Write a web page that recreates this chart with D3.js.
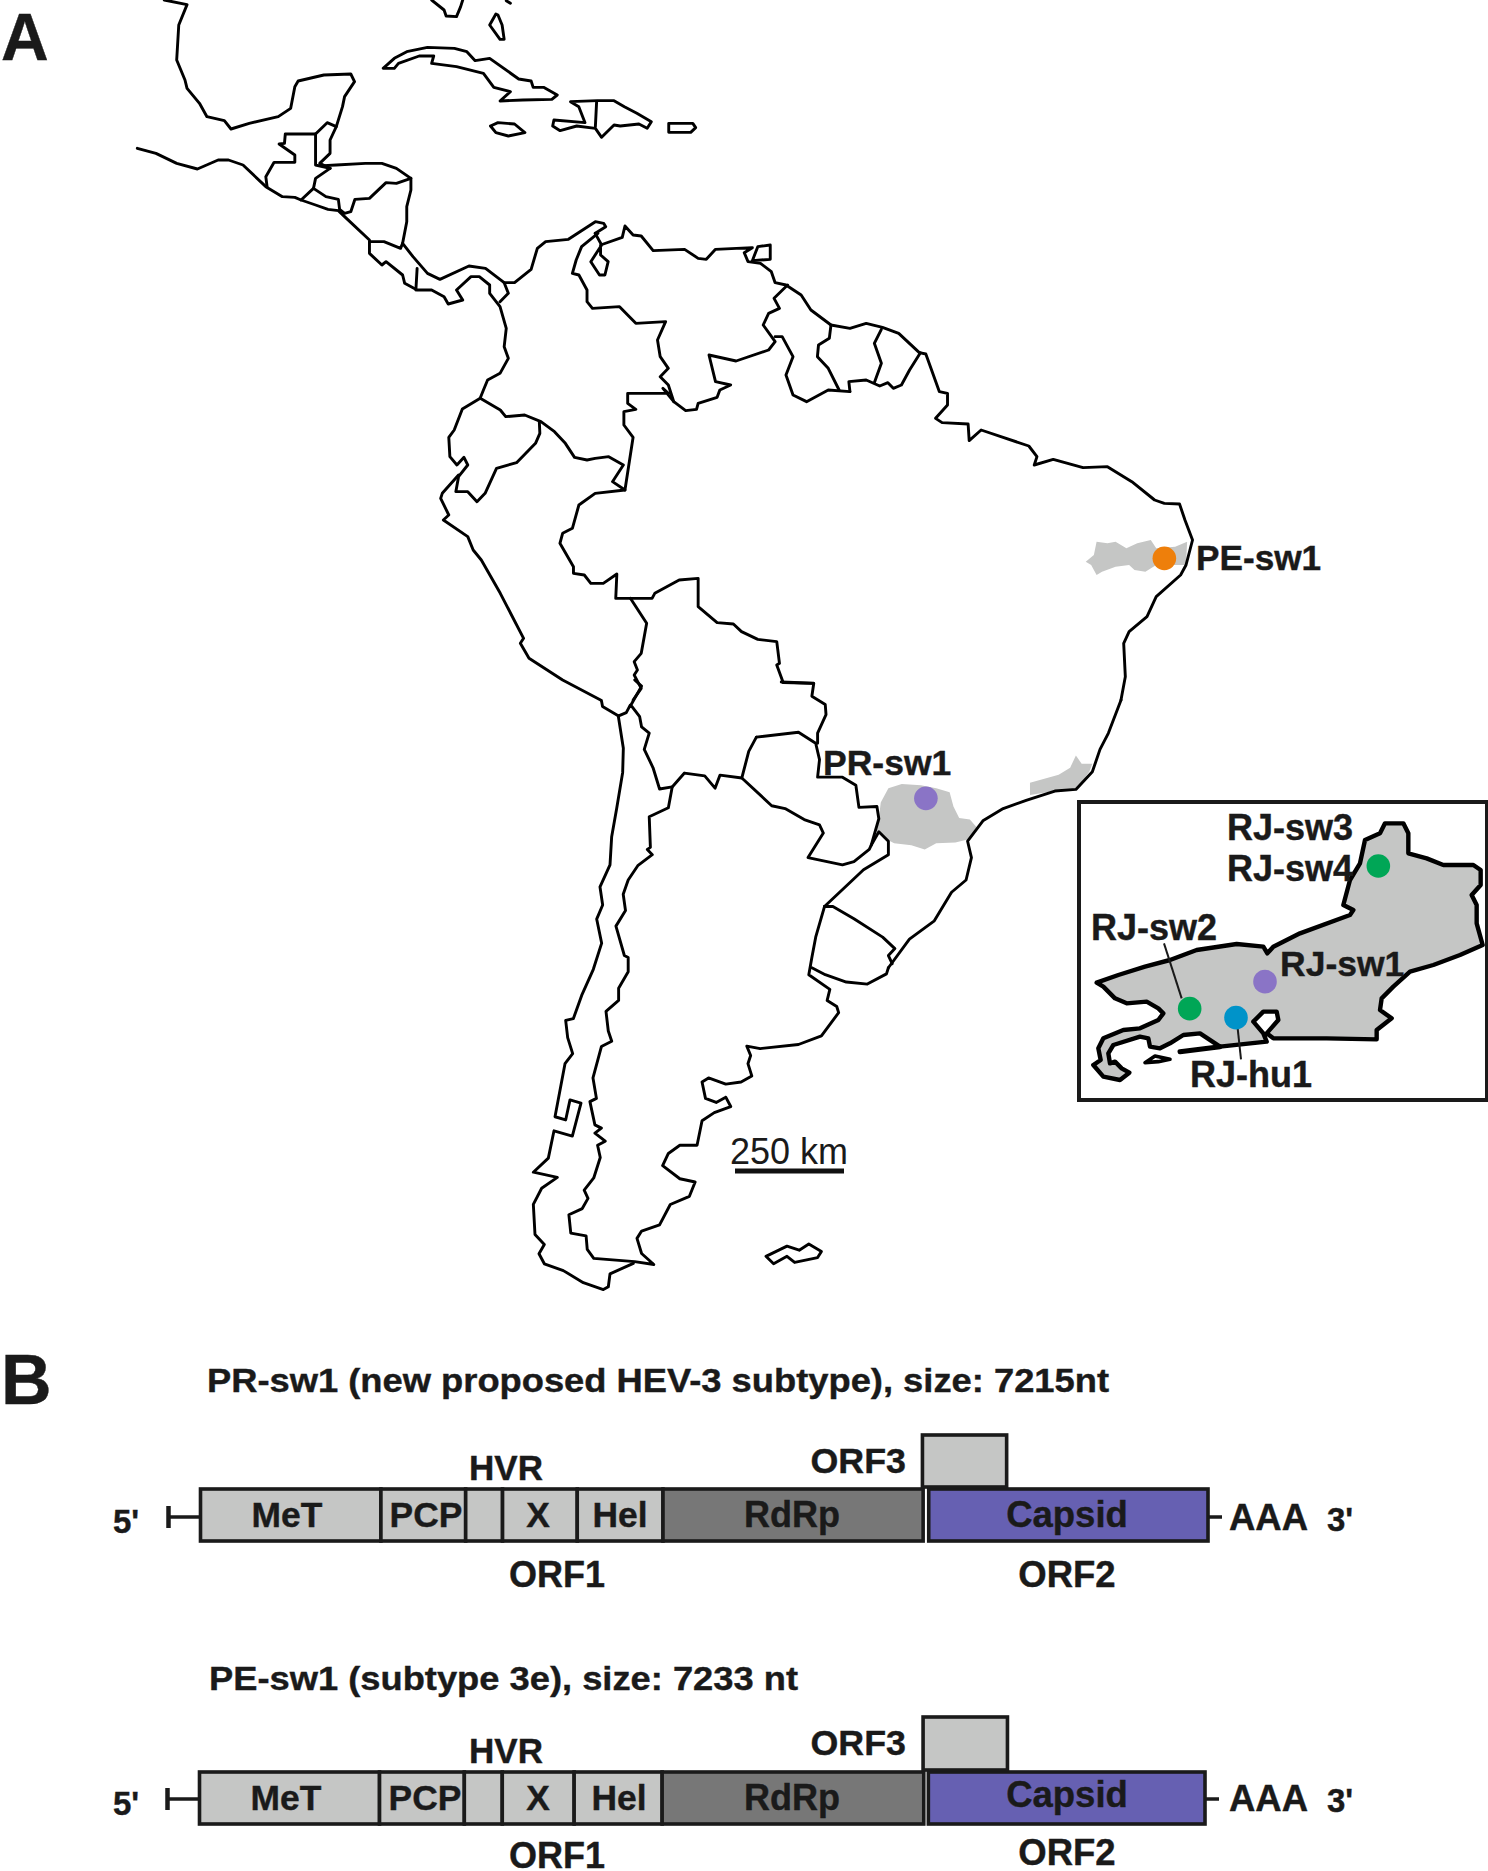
<!DOCTYPE html>
<html>
<head>
<meta charset="utf-8">
<script src="https://d3js.org/d3.v7.min.js"></script>
<style>
    body { margin: 0; background: #fff; }
    svg { display: block; }
    text { font-family: "Liberation Sans", Arial, sans-serif; fill: #1a1a1a; }
    .outline { fill: none; stroke: #000; stroke-width: 2.9; stroke-linejoin: round; stroke-linecap: round; }
</style>
</head>
<body>
<script>
//self-executing anonymous function to move to local scope
(function(){

//map outlines, each in the units of the sheet it was traced on
var mexicoGulf = [[155,0],[210,14],[190,75],[185,180],[205,240],[210,265],[240,310],[258,350],[300,362],[316,387],[360,370],[430,350],[460,325],[470,260],[478,243],[540,225],[605,222],[614,245],[590,290],[585,320],[570,380],[548,368],[520,402],[447,402],[445,430],[432,432],[470,465],[470,487],[420,487],[400,530],[403,560]];
var belizeCoast = [[570,380],[555,420],[555,460],[530,490],[555,505]];
var belizeWest = [[520,402],[520,495],[555,505]];
var pacificNorth = [[90,445],[135,460],[185,490],[235,507],[285,480],[310,480],[345,495],[400,560],[440,590],[470,592],[485,600],[520,615],[550,628],[575,632],[590,650],[650,720],[650,760],[680,795],[690,785],[730,825],[735,850],[765,870],[800,870],[830,890],[840,912],[875,900],[860,870],[895,830],[915,830],[940,855],[940,880],[965,920],[980,985],[975,1040],[985,1075],[965,1120],[935,1140],[925,1170],[918,1192]];
var caribbeanWest = [[540,497],[570,495],[640,490],[680,490],[715,505],[750,535],[750,570],[740,620],[740,665],[730,730],[755,770],[790,820],[820,838],[890,798],[930,805],[975,848],[1000,848],[1040,808],[1055,745],[1075,725],[1130,718],[1195,665],[1215,670],[1220,680],[1195,700]];
var hondurasSouth = [[750,535],[715,550],[690,548],[650,595],[615,598],[605,635],[590,640],[578,628],[575,598],[545,590],[515,565],[520,535],[555,505]];
var salvadorWest = [[515,565],[485,600]];
var costaRicaNorth = [[650,725],[685,725],[725,745],[730,730]];
var costaRicaEast = [[765,805],[762,870]];
var panamaEast = [[975,848],[985,880],[965,905]];
var florida = [[800,0],[830,30],[835,48],[860,50],[870,20],[875,0]];
var keyIsland = [[980,2],[990,10]];
var bahamas = [[955,42],[940,75],[965,118],[975,118],[970,75],[960,45]];
var cuba = [[683,205],[710,175],[740,155],[790,142],[855,145],[885,155],[905,182],[940,175],[1010,237],[1040,243],[1045,262],[1070,262],[1103,285],[1090,298],[1020,300],[965,303],[990,275],[950,262],[925,220],[860,200],[800,190],[805,168],[770,168],[720,190],[710,205]];
var jamaica = [[942,378],[960,368],[1000,372],[1025,398],[985,408],[955,398]];
var hispaniola = [[1135,305],[1200,302],[1240,302],[1265,320],[1295,340],[1330,365],[1320,385],[1300,372],[1255,378],[1240,375],[1210,412],[1195,385],[1150,378],[1110,392],[1092,378],[1095,360],[1170,368],[1155,320]];
var haitiBorder = [[1198,305],[1195,380]];
var puertoRico = [[1372,370],[1430,370],[1437,383],[1425,397],[1372,397]];

var colombiaCoast = [[365,100],[335,140],[325,180],[318,220],[330,225],[345,270],[345,305],[355,325],[405,320],[435,370],[490,365],[475,420],[480,470],[495,505],[480,530],[495,555],[505,605],[485,565],[495,580],[420,580],[420,610],[435,628],[413,635],[413,675],[430,712],[415,870],[392,845],[412,795],[385,770],[360,775],[345,780],[322,772],[305,730],[285,695],[260,665],[230,645],[195,650],[185,630],[148,595]];
var atlanticCoast = [[360,100],[372,135],[352,185],[368,225],[378,225],[384,185],[370,165],[370,135],[410,112],[415,78],[430,105],[445,108],[467,152],[525,148],[550,175],[565,178],[582,148],[650,143],[635,158],[642,185],[665,190],[685,215],[692,248],[712,255],[740,285],[758,330],[795,375],[830,385],[860,370],[890,382],[920,400],[958,458],[970,462],[995,575],[1010,580],[1010,615],[988,655],[1000,668],[1048,672],[1050,722],[1072,690],[1160,738],[1175,770],[1170,795],[1205,778],[1260,803],[1305,800],[1350,845],[1392,900],[1410,910],[1438,912],[1448,960],[1462,1020],[1450,1095],[1440,1125],[1395,1190],[1378,1250],[1345,1295],[1335,1330],[1338,1430],[1330,1500]];
var trinidad = [[660,140],[683,135],[683,178],[650,182]];
var venezuelaSouth = [[715,255],[690,295],[700,325],[680,340],[670,375],[692,425],[680,450],[620,483],[570,465],[582,545],[610,555],[590,570],[585,592],[550,610],[547,628],[527,632],[505,605]];
var guyanaSouth = [[692,410],[705,410],[715,440],[725,470],[712,525],[725,585],[750,605],[790,570],[830,575]];
var guyanaEast = [[795,375],[792,415],[772,435],[770,470],[790,505],[810,570]];
var surinameEast = [[888,388],[875,430],[888,490],[875,548]];
var guianaSouth = [[830,575],[828,545],[860,540],[885,558],[900,548],[910,565],[925,555],[940,510],[960,458]];
var ecuador = [[148,595],[115,627],[100,690],[90,712],[92,770],[105,795],[118,772],[125,795],[108,830],[103,875],[125,875],[142,905],[157,880],[178,805],[215,788],[250,730],[258,700],[257,665]];
var peruCoast = [[108,825],[78,880],[75,895],[90,945],[80,960],[125,1010],[135,1050],[150,1080],[185,1180],[228,1315],[222,1330],[238,1375],[300,1440],[370,1500]];
var brazilWest = [[415,870],[360,880],[330,915],[318,985],[300,1000],[295,1030],[320,1100],[320,1120],[340,1125],[352,1150],[375,1150],[400,1122],[398,1195],[425,1195],[465,1195],[470,1180],[515,1140],[550,1135],[550,1220],[585,1268],[615,1272],[630,1295],[660,1318],[695,1325],[700,1390],[695,1395],[707,1448],[762,1450]];
var peruBolivia = [[425,1195],[455,1270],[445,1360],[432,1385],[438,1410],[432,1425],[445,1465],[430,1500]];

var peruBoliviaEnd = [[352,0],[370,15],[340,65]];
var chilePeru = [[265,50],[268,65],[310,88],[330,80],[340,62]];
var boliviaChile = [[345,65],[365,90],[370,115],[390,130],[377,170],[400,215],[417,267],[450,262]];
var boliviaBrazil = [[735,5],[820,8],[815,40],[850,60],[852,85],[830,130],[830,155]];
var argentinaWest = [[670,140],[780,128],[825,155],[835,195],[830,238],[895,238],[930,258],[938,312],[985,310],[990,340],[970,405],[965,415],[925,445],[895,453],[805,435],[845,375],[835,355],[795,342],[745,315],[710,308],[632,240],[575,233],[562,265],[535,235],[482,228],[450,262],[440,313],[390,335],[393,410],[385,415],[398,428],[360,455],[335,490],[322,525],[328,565],[303,603],[325,675],[335,680],[335,715],[310,755],[310,785],[277,812],[283,860],[292,885],[265,898],[243,975],[252,1025],[235,1033],[248,1090],[265,1098],[248,1110],[275,1130],[255,1140],[262,1170],[245,1220],[220,1250],[230,1270],[215,1295],[180,1310],[185,1355],[225,1362],[228,1395],[245,1417],[352,1425],[402,1432],[370,1405],[358,1368],[370,1350],[417,1335],[445,1285],[495,1265],[510,1230],[470,1222],[425,1190],[440,1160],[470,1140],[515,1140],[528,1080],[560,1060],[603,1045],[590,1022],[565,1035],[537,1025],[528,985],[545,975],[590,990],[630,985],[658,970],[648,940],[655,920],[645,897],[680,903],[780,893],[840,872],[885,815],[880,800],[855,785],[862,758],[807,722],[815,680],[825,630],[848,555]];
var paraguayNorth = [[632,240],[650,175],[670,140]];
var argentinaNorthEast = [[848,555],[950,465],[1015,428],[1015,395],[990,372],[970,405]];
var uruguayNorth = [[848,555],[870,555],[925,585],[1000,630],[1032,658],[1015,675],[1025,695]];
var plata = [[815,705],[850,722],[905,740],[960,745],[1010,720],[1015,705]];
var brazilSouth = [[1015,705],[1070,635],[1135,590],[1180,520],[1218,490],[1232,435],[1222,395],[1262,345],[1315,315],[1375,295],[1450,272],[1505,268],[1548,225],[1568,170],[1590,130],[1623,49]];
var falklands = [[695,1412],[750,1387],[782,1397],[807,1382],[840,1400],[830,1415],[770,1427],[750,1412],[715,1430]];
var chileCoast = [[655,90],[670,170],[668,230],[650,320],[635,390],[630,460],[600,515],[608,560],[590,595],[605,655],[580,720],[545,785],[520,843],[497,847],[503,890],[518,930],[495,955],[465,1087],[497,1095],[510,1045],[543,1053],[517,1135],[462,1122],[445,1190],[400,1225],[472,1238],[425,1265],[400,1305],[405,1380],[433,1405],[417,1428],[433,1453],[490,1470],[550,1500],[610,1517],[625,1510],[630,1478],[700,1452]];

//grey sampled states
var pernambuco = [[1265,1085],[1280,1065],[1285,1025],[1305,1030],[1320,1025],[1340,1045],[1360,1030],[1385,1020],[1395,1045],[1430,1040],[1452,1025],[1450,1095],[1395,1095],[1375,1115],[1355,1110],[1345,1095],[1320,1100],[1295,1115],[1285,1125],[1275,1095]];
var parana = [[1015,265],[1050,255],[1100,258],[1140,265],[1175,275],[1185,310],[1200,338],[1228,342],[1245,360],[1225,390],[1190,398],[1140,400],[1110,415],[1075,405],[1030,400],[1010,390],[985,370],[990,340],[995,300]];
var rioSmall = [[1385,252],[1460,232],[1490,215],[1505,185],[1520,205],[1548,205],[1540,225],[1505,268],[1450,272],[1385,282]];

//Rio de Janeiro state in the inset
var rioInset = [[110,578],[175,555],[255,530],[330,510],[410,480],[530,462],[610,470],[622,490],[640,470],[720,430],[870,375],[880,360],[850,345],[870,270],[900,220],[915,150],[960,130],[975,100],[1030,100],[1045,130],[1045,190],[1100,205],[1150,225],[1240,225],[1262,240],[1262,285],[1235,315],[1250,345],[1250,400],[1268,465],[1200,495],[1120,525],[1050,545],[1000,590],[965,625],[960,660],[995,685],[950,720],[950,748],[800,745],[640,745],[620,730],[655,690],[650,665],[610,665],[580,695],[610,730],[620,755],[480,770],[420,730],[370,735],[330,760],[300,775],[270,770],[265,745],[240,740],[160,765],[145,790],[150,820],[165,815],[185,835],[208,848],[180,870],[130,860],[100,825],[122,810],[115,775],[130,745],[190,720],[240,715],[295,690],[310,670],[295,655],[260,635],[200,640],[165,625],[130,590]];
var sepetibaSpit = [[360,785],[480,770]];
var ilhaGrande = [[255,818],[285,798],[330,808],[295,815]];
var leaderSw2 = [[312,460],[365,625]];
var leaderHu1 = [[533,715],[543,808]];

//sample sites
var siteNames = ["PE-sw1", "PR-sw1", "RJ-sw3/4", "RJ-sw2", "RJ-sw1", "RJ-hu1"];
var siteSheets = ["b", "c", "d", "d", "d", "d"];
var siteX = [1410, 1113, 955, 389, 615, 528];
var siteY = [1075, 290, 228, 656, 575, 683];
var siteColors = ["#ee7f0b", "#8a74c6", "#00a656", "#00a656", "#8a74c6", "#0093c9"];

//genome regions in nucleotides
var regionNames = ["MeT", "PCP", "", "X", "Hel", "RdRp", "Capsid"];
var regionColors = ["#c5c6c5", "#c5c6c5", "#c5c6c5", "#c5c6c5", "#c5c6c5", "#777777", "#6660b2"];
var prStarts = [0, 1292, 1899, 2163, 2698, 3312, 5215];
var prEnds = [1292, 1899, 2163, 2698, 3312, 5175, 7215];
var prOrf3 = [5170, 5773];
var peStarts = [0, 1295, 1905, 2178, 2695, 3328, 5243];
var peEnds = [1295, 1905, 2178, 2695, 3328, 5210, 7233];
var peOrf3 = [5205, 5812];

var scaleBarKm = 250;

var width = 1488,
    height = 1871;

//create svg container
var svg = d3.select("body")
    .append("svg")
    .attr("width", width)
    .attr("height", height);

svg.append("rect")
    .attr("width", width)
    .attr("height", height)
    .attr("fill", "#fff");

//one pair of scales per tracing sheet, sheet units to page pixels
function sheet(xMax, x0, x1, yMax, y0, y1){
    return {
        x: d3.scaleLinear().domain([0, xMax]).range([x0, x1]),
        y: d3.scaleLinear().domain([0, yMax]).range([y0, y1])
    };
}
var sheets = {
    a: sheet(1568, 100, 750, 1350, 0, 450),
    b: sheet(1568, 400, 1250, 1500, 200, 700),
    c: sheet(1568, 500, 1100, 1568, 680, 1320),
    d: sheet(1284, 1060, 1488, 960, 790, 1110),
    g: sheet(1050, 400, 750, 1568, 680, 1310)
};

function tracePath(name, pts, closed){
    var s = sheets[name];
    var line = d3.line()
        .x(function(d){ return s.x(d[0]); })
        .y(function(d){ return s.y(d[1]); });
    return line(pts) + (closed ? "Z" : "");
}

//grey states go under the coast lines
[["b", pernambuco], ["c", parana], ["c", rioSmall]].forEach(function(r){
    svg.append("path")
        .attr("d", tracePath(r[0], r[1], true))
        .attr("fill", "#c5c6c5");
});

var openLines = [
    ["a", mexicoGulf], ["a", belizeCoast], ["a", belizeWest], ["a", pacificNorth], ["a", caribbeanWest],
    ["a", hondurasSouth], ["a", salvadorWest], ["a", costaRicaNorth], ["a", costaRicaEast], ["a", panamaEast],
    ["a", florida], ["a", keyIsland], ["a", haitiBorder],
    ["b", colombiaCoast], ["b", atlanticCoast], ["b", venezuelaSouth], ["b", guyanaSouth], ["b", guyanaEast],
    ["b", surinameEast], ["b", guianaSouth], ["b", ecuador], ["b", peruCoast], ["b", brazilWest], ["b", peruBolivia],
    ["c", peruBoliviaEnd], ["c", chilePeru], ["c", boliviaChile], ["c", boliviaBrazil], ["c", argentinaWest],
    ["c", paraguayNorth], ["c", argentinaNorthEast], ["c", uruguayNorth], ["c", plata], ["c", brazilSouth],
    ["g", chileCoast]
];
var closedLines = [
    ["a", bahamas], ["a", cuba], ["a", jamaica], ["a", hispaniola], ["a", puertoRico],
    ["b", trinidad], ["c", falklands]
];

svg.selectAll(".open")
    .data(openLines)
    .enter()
    .append("path")
    .attr("class", "outline open")
    .attr("d", function(d){ return tracePath(d[0], d[1], false); });

svg.selectAll(".closed")
    .data(closedLines)
    .enter()
    .append("path")
    .attr("class", "outline closed")
    .attr("d", function(d){ return tracePath(d[0], d[1], true); });

//inset box with Rio de Janeiro
svg.append("rect")
    .attr("x", 1079)
    .attr("y", 802)
    .attr("width", 408)
    .attr("height", 298)
    .attr("fill", "#fff")
    .attr("stroke", "#1a1a1a")
    .attr("stroke-width", 4);

svg.append("path")
    .attr("d", tracePath("d", rioInset, true))
    .attr("fill", "#c5c6c5")
    .attr("stroke", "#000")
    .attr("stroke-width", 4.4)
    .attr("stroke-linejoin", "round");

svg.append("path")
    .attr("d", tracePath("d", sepetibaSpit, false))
    .attr("fill", "none")
    .attr("stroke", "#000")
    .attr("stroke-width", 5)
    .attr("stroke-linecap", "round");

svg.append("path")
    .attr("d", tracePath("d", ilhaGrande, true))
    .attr("fill", "none")
    .attr("stroke", "#000")
    .attr("stroke-width", 3.6)
    .attr("stroke-linejoin", "round");

[leaderSw2, leaderHu1].forEach(function(pts){
    svg.append("path")
        .attr("d", tracePath("d", pts, false))
        .attr("fill", "none")
        .attr("stroke", "#1a1a1a")
        .attr("stroke-width", 2);
});

//sampling sites
svg.selectAll(".site")
    .data(siteNames)
    .enter()
    .append("circle")
    .attr("class", "site")
    .attr("cx", function(d, i){ return sheets[siteSheets[i]].x(siteX[i]); })
    .attr("cy", function(d, i){ return sheets[siteSheets[i]].y(siteY[i]); })
    .attr("r", 11.8)
    .attr("fill", function(d, i){ return siteColors[i]; });

function addText(str, x, y, size, anchor, weight){
    var isBold = (weight || "bold") == "bold";
    return svg.append("text")
        .attr("x", x)
        .attr("y", y)
        .attr("font-size", size)
        .attr("text-anchor", anchor || "start")
        .style("font-weight", isBold ? "bold" : "normal")
        .style("stroke", isBold ? "#1a1a1a" : "none")
        .style("stroke-width", isBold ? 0.4 : 0)
        .text(str);
}

addText("A", 1, 60, 66);
addText("B", 1, 1404, 70);

addText("PE-sw1", 1196, 570, 35.2);
addText("PR-sw1", 823, 775, 35.5);
addText("RJ-sw3", 1227, 840, 36);
addText("RJ-sw4", 1227, 881, 36);
addText("RJ-sw2", 1091, 940, 36);
addText("RJ-sw1", 1280, 976, 35.5);
addText("RJ-hu1", 1190, 1087, 36);
addText("250 km", 730, 1164, 36, "start", "normal");

//scale bar
var kmScale = d3.scaleLinear().domain([0, scaleBarKm]).range([735, 844]);
svg.append("rect")
    .attr("x", kmScale(0))
    .attr("y", 1168.5)
    .attr("width", kmScale(scaleBarKm) - kmScale(0))
    .attr("height", 5)
    .attr("fill", "#111");

//draw one genome diagram
function drawGenome(o){
    var x = d3.scaleLinear().domain([0, o.ends[o.ends.length - 1]]).range(o.range);
    var g = svg.append("g");
    var ink = "#1a1a1a";

    g.selectAll("rect.region")
        .data(regionNames)
        .enter()
        .append("rect")
        .attr("class", "region")
        .attr("x", function(d, i){ return x(o.starts[i]); })
        .attr("y", o.top)
        .attr("width", function(d, i){ return x(o.ends[i]) - x(o.starts[i]); })
        .attr("height", o.bottom - o.top)
        .attr("fill", function(d, i){ return regionColors[i]; })
        .attr("stroke", ink)
        .attr("stroke-width", 3.6);

    g.append("rect")
        .attr("x", x(o.orf3[0]))
        .attr("y", o.orf3Top)
        .attr("width", x(o.orf3[1]) - x(o.orf3[0]))
        .attr("height", o.top - o.orf3Top - 2)
        .attr("fill", "#c5c6c5")
        .attr("stroke", ink)
        .attr("stroke-width", 3.6);

    //tails at both ends
    g.append("line").attr("x1", o.range[0] - 32).attr("x2", o.range[0]).attr("y1", o.tailY).attr("y2", o.tailY)
        .attr("stroke", ink).attr("stroke-width", 3.5);
    g.append("line").attr("x1", o.range[0] - 32).attr("x2", o.range[0] - 32).attr("y1", o.tailY - 11).attr("y2", o.tailY + 11)
        .attr("stroke", ink).attr("stroke-width", 4.5);
    g.append("line").attr("x1", o.range[1]).attr("x2", o.range[1] + 14).attr("y1", o.tailY).attr("y2", o.tailY)
        .attr("stroke", ink).attr("stroke-width", 3.5);

    addText(o.title, o.titleX, o.titleY, 34)
        .attr("textLength", o.titleWidth)
        .attr("lengthAdjust", "spacingAndGlyphs");
    addText("HVR", 506, o.hvrY, 35, "middle");
    addText("ORF3", 906, o.orf3Y, 35.8, "end");
    addText("MeT", o.labelX[0], o.labelY, 35.4, "middle");
    addText("PCP", o.labelX[1], o.labelY, 35.4, "middle");
    addText("X", o.labelX[2], o.labelY, 35.4, "middle");
    addText("Hel", o.labelX[3], o.labelY, 35.4, "middle");
    addText("RdRp", 792, o.labelY, 36, "middle");
    addText("Capsid", 1067, o.capsidY, 36.5, "middle");
    addText("5'", 113, o.fiveY, 33);
    addText("AAA", 1229, o.aaaY, 36.5);
    addText("3'", 1327, o.aaaY + 1, 33);
    addText("ORF1", 557, o.orf1Y, 36, "middle");
    addText("ORF2", 1067, o.orf2Y, 36.5, "middle");
}

drawGenome({
    title: "PR-sw1 (new proposed HEV-3 subtype), size: 7215nt",
    titleX: 207, titleY: 1392, titleWidth: 902,
    starts: prStarts, ends: prEnds, orf3: prOrf3,
    range: [200.5, 1208], top: 1489, bottom: 1541, orf3Top: 1435,
    tailY: 1517, labelX: [287, 426, 538, 620], labelY: 1527, capsidY: 1527,
    hvrY: 1480, orf3Y: 1473, fiveY: 1533, aaaY: 1530, orf1Y: 1587, orf2Y: 1587
});

drawGenome({
    title: "PE-sw1 (subtype 3e), size: 7233 nt",
    titleX: 209, titleY: 1690, titleWidth: 589,
    starts: peStarts, ends: peEnds, orf3: peOrf3,
    range: [199.5, 1205], top: 1772, bottom: 1824, orf3Top: 1717,
    tailY: 1799, labelX: [286, 425, 538, 619], labelY: 1810, capsidY: 1807,
    hvrY: 1763, orf3Y: 1755, fiveY: 1815, aaaY: 1811, orf1Y: 1868, orf2Y: 1865
});

})();
</script>
</body>
</html>
